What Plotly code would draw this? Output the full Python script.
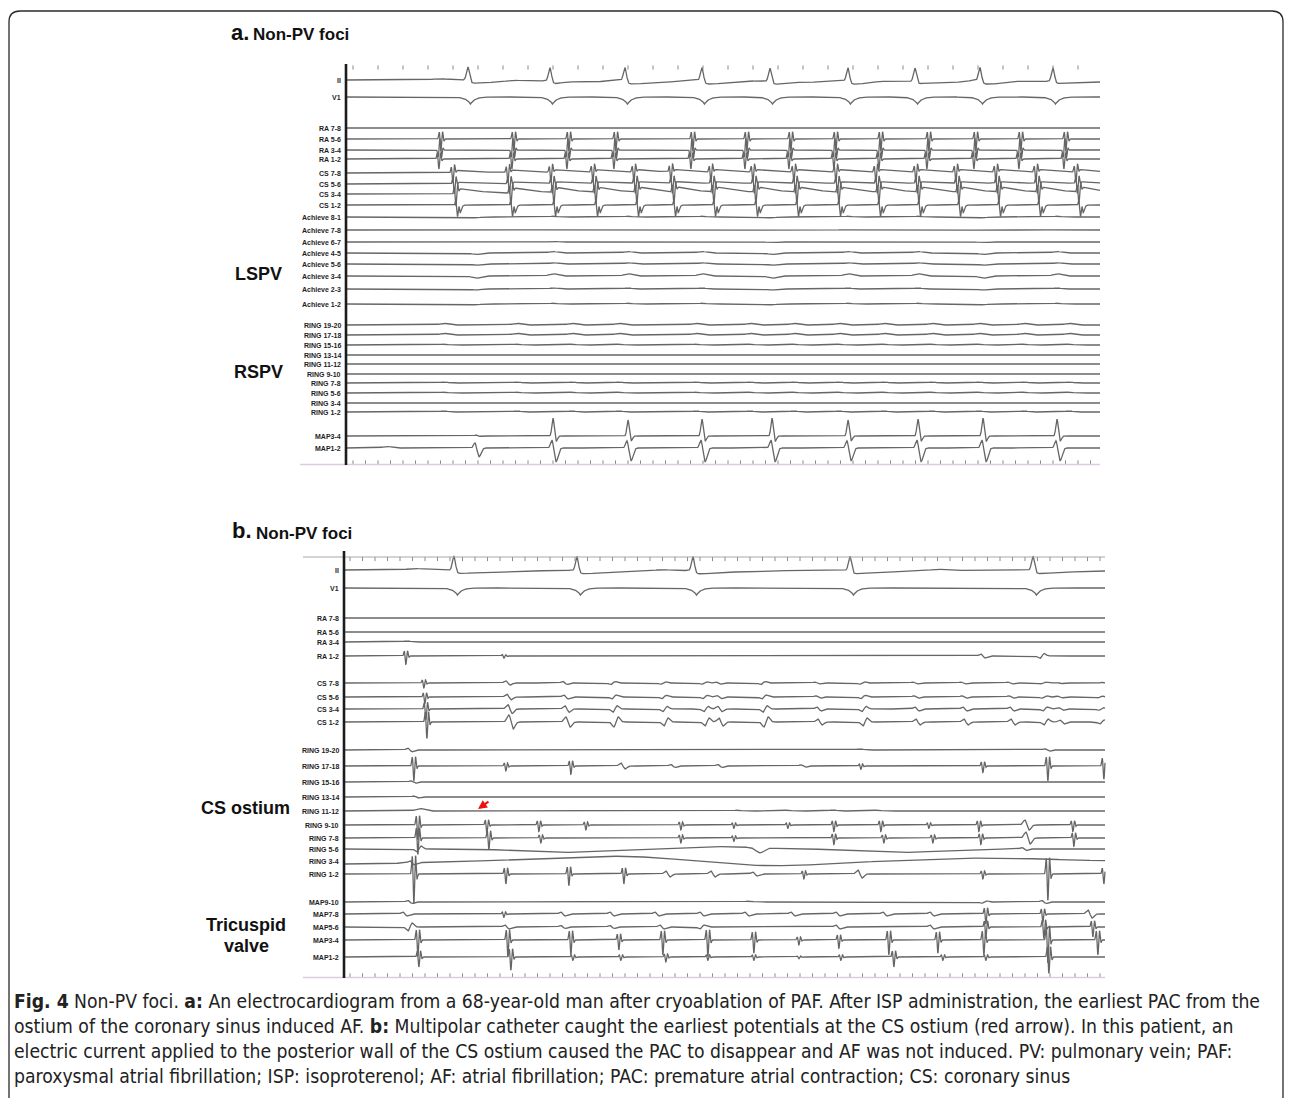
import numpy as np
import plotly.graph_objects as go

# ======================= DATA : panel a (times in ms from sweep start) =======================
A_LABELS = ["II", "V1", "RA 7-8", "RA 5-6", "RA 3-4", "RA 1-2",
            "CS 7-8", "CS 5-6", "CS 3-4", "CS 1-2",
            "Achieve 8-1", "Achieve 7-8", "Achieve 6-7", "Achieve 4-5",
            "Achieve 5-6", "Achieve 3-4", "Achieve 2-3", "Achieve 1-2",
            "RING 19-20", "RING 17-18", "RING 15-16", "RING 13-14", "RING 11-12",
            "RING 9-10", "RING 7-8", "RING 5-6", "RING 3-4", "RING 1-2",
            "MAP3-4", "MAP1-2"]
A_SWEEP_MS = 3016
A_QRS_MS = [488, 816, 1116, 1424, 1696, 2008, 2276, 2536, 2828]
A_QRS_AMP = [13, 13, 13, 13, 13, 13, 13, 13, 13]
A_V1_AMP = [7, 7, 7, 7, 7, 7, 7, 7, 7]
A_RA_MS = [376, 668, 888, 1076, 1384, 1600, 1776, 1956, 2136, 2328, 2516, 2696, 2876]
A_II_F_AMP = 1.2
A_RA_GAIN = [0.0, 7.0, -7.0, 6.0]          # RA 7-8, 5-6, 3-4, 1-2
A_RA_LAG_MS = [0, 0, -4, -8]
A_CS_MS = [424, 644, 816, 984, 1148, 1296, 1456, 1624, 1788, 1956, 2116, 2276, 2436, 2596, 2756, 2916]
A_CS_GAIN = [6.0, 6.0, 7.0, 5.0]           # CS 7-8, 5-6, 3-4, 1-2
A_CS_TAIL = [3.0, 2.0, 6.0, 0.0]
A_CS_DIP = [0.0, 0.0, 0.0, 7.0]
A_CS_LAG_MS = [0, 6, 12, 18]
A_V_MS = [520, 828, 1128, 1424, 1704, 2008, 2288, 2548, 2844]
A_MAP34_AMP = [1, 18, 16, 17, 18, 16, 17, 18, 17]
A_MAP12_AMP = [9, 14, 13, 14, 14, 13, 14, 14, 13]
A_MAP12_EXTRA = [(164, 1.5, "bump")]
A_ACH_GAIN = [0.8, 0.7, 0.6, 1.5, 1.2, 2.2, 1.0, 0.8]
A_ACH_SIGN = [-1, 1, 1, 1, -1, 1, 1, -1, 1]
A_RING_GAIN = [1.6, 1.6, 0.8, 0.4, 0.4, 0.5, 0.9, 0.8, 0.6, 1.0]

# ======================= DATA : panel b =======================
B_LABELS = ["II", "V1", "RA 7-8", "RA 5-6", "RA 3-4", "RA 1-2",
            "CS 7-8", "CS 5-6", "CS 3-4", "CS 1-2",
            "RING 19-20", "RING 17-18", "RING 15-16", "RING 13-14", "RING 11-12",
            "RING 9-10", "RING 7-8", "RING 5-6", "RING 3-4", "RING 1-2",
            "MAP9-10", "MAP7-8", "MAP5-6", "MAP3-4", "MAP1-2"]
B_SWEEP_MS = 3044
B_QRS_MS = [440, 932, 1396, 2024, 2756]
B_QRS_AMP = [14, 14, 14, 14, 14]
B_V1_AMP = [7, 7, 7, 7, 7]
B_P_MS = [284, 1272, 2372]
B_P_AMP = [1.5, 1.2, 1.5]
B_RA12 = [(244, 5, "frac"), (636, 1.5, "frac"), (2556, 2, "soft"), (2792, -2.5, "soft")]
B_RA34 = [(252, 1.0, "bump")]
B_CS = [(316, 10, "frac"), (656, 7, "soft"), (884, 5, "soft"), (1076, -5, "soft"), (1276, -4, "soft"),
        (1440, -4, "soft"), (1496, 4, "soft"), (1676, -5, "soft"), (1892, 3, "soft"), (2072, -4, "soft"),
        (2284, 3, "soft"), (2476, 3, "soft"), (2664, 3, "soft"), (2796, -3, "soft"), (2860, 2, "soft"),
        (3020, -2, "soft")]
B_CS_GAIN = [0.3, 0.4, 0.65, 1.0]           # CS 7-8, 5-6, 3-4, 1-2
B_CS_LAG_MS = [0, 4, 8, 12]
B_RING1920 = [(264, 1.8, "soft"), (2064, 1.0, "bump"), (2812, 1.2, "soft")]
B_RING1718 = [(276, 9, "frac"), (644, 3, "frac"), (904, 5, "frac"), (1116, 3, "soft"), (1316, 1.5, "soft"),
              (1504, 1.5, "soft"), (1836, 1.2, "soft"), (2064, 2, "frac"), (2552, 4, "frac"),
              (2812, 9, "frac"), (3036, 8, "frac")]
B_RING1516 = [(276, 1.2, "soft")]
B_RING1314 = [(288, 1.0, "soft")]
B_RING1112 = [(304, 2.5, "bump"), (1572, 0.8, "bump"), (1772, 0.8, "bump"), (1956, 1.0, "bump"),
              (2132, 0.8, "bump")]
B_RING910 = [(292, 9, "frac"), (568, 5, "frac"), (776, 4, "frac"), (964, 3, "frac"), (1344, 3, "frac"),
             (1556, 2, "frac"), (1772, 2, "frac"), (1956, 4, "frac"), (2144, 4, "frac"), (2336, 2, "frac"),
             (2536, 4, "frac"), (2732, 5, "soft"), (2912, 4, "frac")]
B_RING78 = [(292, 10, "frac"), (576, 7, "frac"), (784, 3, "frac"), (1344, 3, "frac"), (1556, 2, "frac"),
            (1956, 4, "frac"), (2156, 3, "frac"), (2352, 3, "frac"), (2544, 4, "frac"), (2736, 6, "soft"),
            (2916, 5, "frac")]
B_RING56 = [(300, -3, "soft"), (864, -3.5, "wave"), (1484, 2.5, "wave"), (1664, -5, "bump"),
            (2224, -3.5, "wave"), (2720, 1.5, "soft")]
B_RING34 = [(24, -3, "wide"), (272, 2, "soft"), (1104, 5, "wide"), (1700, -5, "wide"), (2560, 3, "wide")]
B_RING12 = [(276, 18, "frac"), (644, 6, "frac"), (896, 7, "frac"), (1116, 6, "frac"), (1296, 3, "soft"),
            (1476, 3, "soft"), (1644, 2, "soft"), (1836, 3, "frac"), (2064, 4, "soft"), (2552, 3, "frac"),
            (2812, 16, "frac"), (3036, 6, "frac")]
B_MAP910 = [(264, 1.5, "soft"), (1616, 0.8, "bump"), (2560, -1.2, "soft"), (2800, 1.5, "soft")]
B_MAP78 = [(244, 2, "soft"), (636, 2, "frac"), (876, 2, "soft"), (1072, 2, "soft"), (1252, 2, "soft"),
           (1432, 2, "soft"), (1612, 2, "soft"), (1796, 2, "soft"), (1976, 2, "soft"), (2164, 2, "soft"),
           (2352, 2, "soft"), (2564, 6, "frac"), (2792, 5, "frac"), (2984, 4, "soft")]
B_MAP56 = [(264, -4, "soft"), (652, 2, "soft"), (876, 1.5, "soft"), (1072, 1.5, "soft"), (1272, 2, "soft"),
           (1432, -2, "soft"), (1976, 2, "soft"), (2352, 2, "soft"), (2564, 6, "frac"), (2796, 7, "frac"),
           (2992, 6, "frac")]
B_MAP34 = [(292, 10, "frac"), (652, 10, "frac"), (904, 9, "frac"), (1096, 6, "frac"), (1272, 9, "frac"),
           (1452, 10, "frac"), (1636, 8, "frac"), (1816, 3, "frac"), (1976, 5, "frac"), (2176, 9, "frac"),
           (2372, 8, "frac"), (2556, 9, "frac"), (2812, 14, "frac"), (3012, 9, "frac")]
B_MAP12 = [(296, 6, "frac"), (664, 8, "frac"), (912, 2, "frac"), (1104, 2, "frac"), (1284, 3, "frac"),
           (1452, 2, "frac"), (1636, 2, "frac"), (1816, 1, "frac"), (1984, 2, "frac"), (2196, 6, "frac"),
           (2392, 2, "frac"), (2564, 2, "frac"), (2816, 10, "frac")]

CAPTION = [
    "<b>Fig. 4</b> Non-PV foci. <b>a:</b> An electrocardiogram from a 68-year-old man after cryoablation of PAF. After ISP administration, the earliest PAC from the",
    "ostium of the coronary sinus induced AF. <b>b:</b> Multipolar catheter caught the earliest potentials at the CS ostium (red arrow). In this patient, an",
    "electric current applied to the posterior wall of the CS ostium caused the PAC to disappear and AF was not induced. PV: pulmonary vein; PAF:",
    "paroxysmal atrial fibrillation; ISP: isoproterenol; AF: atrial fibrillation; PAC: premature atrial contraction; CS: coronary sinus",
]

# ======================= LAYOUT CONSTANTS (page pixels) =======================
W, H = 1290, 1098
A_X0, B_X0 = 346, 344          # pixel x of sweep start
MS_PER_PX = 4.0
A_ROW_Y = [80, 97, 128, 139, 150, 159, 173, 184, 194, 205, 217, 230, 242, 253, 264, 276, 289, 304,
           325, 335, 345, 355, 364, 374, 383, 393, 403, 412, 436, 448]
B_ROW_Y = [570, 588, 618, 632, 642, 656, 683, 697, 709, 722, 750, 766, 782, 797, 811, 825, 838, 849,
           861, 874, 902, 914, 927, 940, 957]
TRACE_COLOR = "#666666"
LABEL_FONT = "Liberation Sans, Arial, sans-serif"


def gx(px):        # page pixel -> panel-a time axis
    return (px - A_X0) * MS_PER_PX


def gxb(px):       # page pixel -> panel-b time axis
    return (px - B_X0) * MS_PER_PX


def g(x, s):
    return np.exp(-0.5 * (x / s) ** 2)


def dg(x, s):
    z = x / s
    return -z * np.exp(0.5 - 0.5 * z * z)


def shape(kind, d, a):
    dp = np.clip(d, 0, None)
    if kind == "qrs":
        return a * g(d, 6) - 0.3 * a * (1 - np.exp(-dp / 10)) * np.exp(-dp / 200)
    if kind == "v1":
        return -a * np.exp(-np.abs(d) / 18)
    if kind == "frac":
        return a * (dg(d, 3) - 0.7 * dg(d - 7, 3) + 0.35 * dg(d - 13, 2.5))
    if kind == "v34":
        return a * g(d, 4.5) - 0.3 * a * g(d - 13, 5)
    if kind == "v12":
        return 0.7 * a * g(d + 3, 6) - a * g(d - 12, 8)
    if kind == "tail":
        return a * (1 - np.exp(-dp / 4)) * np.exp(-dp / 110) * (d > 0)
    if kind == "dip":
        return -a * g(d, 7)
    if kind == "bump":
        return a * g(d, 16)
    if kind == "pw":
        return a * g(d, 30)
    if kind == "soft":
        return a * dg(d, 9)
    if kind == "wave":
        return a * g(d, 150)
    if kind == "wide":
        return a * g(d, 250)
    return 0 * d


def signal(t, events):
    s = np.zeros_like(t)
    for (c, a, k) in events:
        s = s + shape(k, t - c, a)
    return s


def ev(times, amps, kind, lag=0):
    return [(tt + lag, aa, kind) for tt, aa in zip(times, amps)]


# ---------------- assemble channel events, panel a ----------------
a_ev = {}
a_ev["II"] = ev(A_QRS_MS, A_QRS_AMP, "qrs") + ev(A_RA_MS, [A_II_F_AMP] * len(A_RA_MS), "pw")
a_ev["V1"] = ev(A_QRS_MS, A_V1_AMP, "v1", 10)
for i, name in enumerate(["RA 7-8", "RA 5-6", "RA 3-4", "RA 1-2"]):
    a_ev[name] = ev(A_RA_MS, [A_RA_GAIN[i]] * len(A_RA_MS), "frac", A_RA_LAG_MS[i])
for i, name in enumerate(["CS 7-8", "CS 5-6", "CS 3-4", "CS 1-2"]):
    n = len(A_CS_MS)
    a_ev[name] = (ev(A_CS_MS, [A_CS_GAIN[i]] * n, "frac", A_CS_LAG_MS[i])
                  + ev(A_CS_MS, [A_CS_TAIL[i]] * n, "tail", A_CS_LAG_MS[i] + 6)
                  + ev(A_CS_MS, [A_CS_DIP[i]] * n, "dip", A_CS_LAG_MS[i] + 12))
for i, name in enumerate(A_LABELS[10:18]):
    a_ev[name] = ev(A_V_MS, [A_ACH_GAIN[i] * sg for sg in A_ACH_SIGN], "bump")
for i, name in enumerate(A_LABELS[18:28]):
    a_ev[name] = ev(A_RA_MS, [A_RING_GAIN[i]] * len(A_RA_MS), "bump", 16)
a_ev["MAP3-4"] = ev(A_V_MS, A_MAP34_AMP, "v34")
a_ev["MAP1-2"] = ev(A_V_MS, A_MAP12_AMP, "v12") + A_MAP12_EXTRA

# ---------------- assemble channel events, panel b ----------------
b_ev = {"RA 7-8": [], "RA 5-6": [], "RA 3-4": B_RA34, "RA 1-2": B_RA12,
        "RING 19-20": B_RING1920, "RING 17-18": B_RING1718, "RING 15-16": B_RING1516,
        "RING 13-14": B_RING1314, "RING 11-12": B_RING1112, "RING 9-10": B_RING910,
        "RING 7-8": B_RING78, "RING 5-6": B_RING56, "RING 3-4": B_RING34, "RING 1-2": B_RING12,
        "MAP9-10": B_MAP910, "MAP7-8": B_MAP78, "MAP5-6": B_MAP56, "MAP3-4": B_MAP34, "MAP1-2": B_MAP12}
b_ev["II"] = ev(B_QRS_MS, B_QRS_AMP, "qrs") + ev(B_P_MS, B_P_AMP, "pw")
b_ev["V1"] = ev(B_QRS_MS, B_V1_AMP, "v1", 14)
for i, name in enumerate(["CS 7-8", "CS 5-6", "CS 3-4", "CS 1-2"]):
    b_ev[name] = [(c + B_CS_LAG_MS[i], a * B_CS_GAIN[i], k) for (c, a, k) in B_CS]

fig = go.Figure()

ta = np.arange(0, A_SWEEP_MS + 1, 1.0)
for name, row in zip(A_LABELS, A_ROW_Y):
    fig.add_trace(go.Scatter(x=ta, y=row - signal(ta, a_ev[name]), mode="lines",
                             line=dict(color=TRACE_COLOR, width=1.3), hoverinfo="skip",
                             showlegend=False, xaxis="x", yaxis="y"))
tb = np.arange(0, B_SWEEP_MS + 1, 1.0)
for name, row in zip(B_LABELS, B_ROW_Y):
    fig.add_trace(go.Scatter(x=tb, y=row - signal(tb, b_ev[name]), mode="lines",
                             line=dict(color=TRACE_COLOR, width=1.3), hoverinfo="skip",
                             showlegend=False, xaxis="x2", yaxis="y"))

# time-scale tick marks
tick_a_top = np.arange(28, A_SWEEP_MS, 100.0)
tick_a_bot = np.arange(28, A_SWEEP_MS, 50.0)
tick_b = np.arange(24, B_SWEEP_MS, 50.0)
tick_style = dict(symbol="line-ns", size=3, line=dict(color="#8a8a8a", width=1))
fig.add_trace(go.Scatter(x=tick_a_top, y=[67.5] * len(tick_a_top), mode="markers", marker=tick_style,
                         hoverinfo="skip", showlegend=False, xaxis="x", yaxis="y"))
fig.add_trace(go.Scatter(x=tick_a_bot, y=[462.5] * len(tick_a_bot), mode="markers", marker=tick_style,
                         hoverinfo="skip", showlegend=False, xaxis="x", yaxis="y"))
fig.add_trace(go.Scatter(x=tick_b, y=[559] * len(tick_b), mode="markers", marker=tick_style,
                         hoverinfo="skip", showlegend=False, xaxis="x2", yaxis="y"))
fig.add_trace(go.Scatter(x=tick_b, y=[975.5] * len(tick_b), mode="markers", marker=tick_style,
                         hoverinfo="skip", showlegend=False, xaxis="x2", yaxis="y"))

shapes = []
# outer rounded frame
L, T, R, B = 9, 11, 1283, 1100
shapes.append(dict(type="path", xref="x", yref="y",
                   path=(f"M {gx(L)} {B} L {gx(L)} {T + 11} Q {gx(L)} {T} {gx(L + 11)} {T} "
                         f"L {gx(R - 11)} {T} Q {gx(R)} {T} {gx(R)} {T + 11} L {gx(R)} {B}"),
                   line=dict(color="#2a2a2a", width=1.3)))
# panel a frame lines
shapes.append(dict(type="line", xref="x", yref="y", x0=gx(300), x1=gx(1100), y0=464.5, y1=464.5,
                   line=dict(color="#dccbe4", width=1.5)))
shapes.append(dict(type="line", xref="x", yref="y", x0=0, x1=0, y0=64, y1=465,
                   line=dict(color="#1c1c1c", width=2.6)))
# panel b frame lines
shapes.append(dict(type="line", xref="x2", yref="y", x0=gxb(303), x1=gxb(1105), y0=557, y1=557,
                   line=dict(color="#a8a8a8", width=1.2)))
shapes.append(dict(type="line", xref="x2", yref="y", x0=gxb(303), x1=gxb(1105), y0=977.5, y1=977.5,
                   line=dict(color="#dccbe4", width=1.5)))
shapes.append(dict(type="line", xref="x2", yref="y", x0=0, x1=0, y0=551, y1=978,
                   line=dict(color="#1c1c1c", width=2.6)))

ann = []
for name, row in zip(A_LABELS, A_ROW_Y):
    ann.append(dict(x=gx(343), y=row, xref="x", yref="y", text=f"<b>{name}</b>", showarrow=False,
                    xanchor="right", yanchor="middle", font=dict(family=LABEL_FONT, size=7, color="#1e1e1e")))
for name, row in zip(B_LABELS, B_ROW_Y):
    ann.append(dict(x=gxb(341), y=row, xref="x2", yref="y", text=f"<b>{name}</b>", showarrow=False,
                    xanchor="right", yanchor="middle", font=dict(family=LABEL_FONT, size=7, color="#1e1e1e")))

big = dict(family=LABEL_FONT, size=18, color="#111111")
titles = [("a.", 229, 32, 22), ("Non-PV foci", 251, 34, 17), ("b.", 230, 530, 22), ("Non-PV foci", 254, 533, 17)]
for txt, px, py, fs in titles:
    ann.append(dict(x=gx(px), y=py, xref="x", yref="y", text=f"<b>{txt}</b>", showarrow=False,
                    xanchor="left", yanchor="middle", font=dict(family=LABEL_FONT, size=fs, color="#111111")))
for txt, px, py in [("LSPV", 258, 274), ("RSPV", 258, 372), ("CS ostium", 245, 808),
                    ("Tricuspid", 246, 925), ("valve", 246, 946)]:
    ann.append(dict(x=gx(px), y=py, xref="x", yref="y", text=f"<b>{txt}</b>", showarrow=False,
                    xanchor="center", yanchor="middle", font=big))

# red arrow to earliest potential
ann.append(dict(x=gxb(478), y=809, ax=gxb(490), ay=800.5, xref="x2", yref="y", axref="x2", ayref="y",
                text="", showarrow=True, arrowhead=2, arrowsize=0.9, arrowwidth=2, arrowcolor="#ee1111"))

for i, line in enumerate(CAPTION):
    ann.append(dict(x=gx(12), y=1001 + 25 * i, xref="x", yref="y", text=line, showarrow=False,
                    xanchor="left", yanchor="middle",
                    font=dict(family="Liberation Sans Narrow, DejaVu Sans Condensed, Liberation Sans, sans-serif",
                              size=19.2, color="#222222")))

fig.update_layout(
    width=W, height=H, margin=dict(l=0, r=0, t=0, b=0),
    paper_bgcolor="white", plot_bgcolor="white",
    xaxis=dict(range=[gx(0), gx(W)], domain=[0, 1], visible=False, fixedrange=True),
    xaxis2=dict(range=[gxb(0), gxb(W)], domain=[0, 1], visible=False, overlaying="x", anchor="y",
                fixedrange=True),
    yaxis=dict(range=[H, 0], domain=[0, 1], visible=False, fixedrange=True),
    shapes=shapes, annotations=ann, hovermode=False,
)

fig.write_html("out.html", config={"displayModeBar": False},
               post_script="document.body.style.margin='0';")
